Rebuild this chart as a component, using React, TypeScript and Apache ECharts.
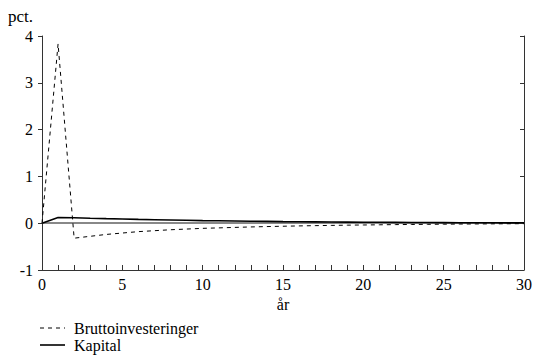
import React, { useEffect, useRef } from "react";
import * as echarts from "echarts";

const years = Array.from({ length: 31 }, (_, i) => i);
const brutto = [0, 3.83, -0.32, -0.28, -0.24, -0.21, -0.18, -0.16, -0.14, -0.125, -0.11, -0.1, -0.09, -0.08, -0.072, -0.065, -0.058, -0.052, -0.047, -0.042, -0.038, -0.034, -0.03, -0.027, -0.024, -0.021, -0.018, -0.016, -0.014, -0.012, -0.01];
const kapital = [0, 0.12, 0.115, 0.105, 0.097, 0.09, 0.082, 0.075, 0.068, 0.062, 0.056, 0.051, 0.046, 0.042, 0.038, 0.034, 0.031, 0.028, 0.025, 0.023, 0.021, 0.019, 0.017, 0.015, 0.014, 0.012, 0.011, 0.01, 0.009, 0.008, 0.007];
const seriesNames = ["Bruttoinvesteringer", "Kapital"];
const yUnit = "pct.";
const xName = "år";

const FONT = "Liberation Serif";

export default function App() {
  const ref = useRef<HTMLDivElement>(null);
  useEffect(() => {
    if (!ref.current) return;
    const chart = echarts.init(ref.current, null, { renderer: "svg" });
    const axisColor = "#333";
    chart.setOption({
      animation: false,
      backgroundColor: "#fff",
      textStyle: { fontFamily: FONT, color: "#000" },
      grid: { left: 42, right: 8, top: 36, bottom: 88 },
      graphic: [
        {
          type: "text",
          left: 8,
          top: 8,
          style: { text: yUnit, fontFamily: FONT, fontSize: 17, fill: "#000" },
        },
        {
          type: "line",
          shape: { x1: 40, y1: 328, x2: 65, y2: 328 },
          style: { stroke: "#000", lineWidth: 1, lineDash: [4, 4] },
        },
        {
          type: "text",
          x: 74,
          y: 328,
          style: { text: seriesNames[0], fontFamily: FONT, fontSize: 16, fill: "#000", verticalAlign: "middle" },
        },
        {
          type: "line",
          shape: { x1: 40, y1: 345, x2: 65, y2: 345 },
          style: { stroke: "#000", lineWidth: 1.6 },
        },
        {
          type: "text",
          x: 74,
          y: 345,
          style: { text: seriesNames[1], fontFamily: FONT, fontSize: 16, fill: "#000", verticalAlign: "middle" },
        },
      ],
      xAxis: {
        type: "value",
        min: 0,
        max: 30,
        interval: 1,
        name: xName,
        nameLocation: "middle",
        nameGap: 23,
        nameTextStyle: { fontFamily: FONT, fontSize: 16, color: "#000" },
        axisLine: { show: true, onZero: false, lineStyle: { color: axisColor, width: 1 } },
        axisTick: { show: true, inside: true, length: 5, lineStyle: { color: axisColor } },
        axisLabel: {
          fontFamily: FONT,
          fontSize: 16,
          color: "#000",
          margin: 6,
          formatter: (v: number) => (v % 5 === 0 ? String(v) : ""),
        },
        splitLine: { show: false },
      },
      yAxis: [
        {
          type: "value",
          min: -1,
          max: 4,
          interval: 1,
          position: "left",
          axisLine: { show: true, lineStyle: { color: axisColor } },
          axisTick: { show: true, inside: false, length: 4, lineStyle: { color: axisColor } },
          axisLabel: { fontFamily: FONT, fontSize: 16, color: "#000", margin: 9 },
          splitLine: { show: false },
        },
        {
          type: "value",
          min: -1,
          max: 4,
          interval: 1,
          position: "right",
          axisLine: { show: true, lineStyle: { color: axisColor } },
          axisTick: { show: true, inside: true, length: 4, lineStyle: { color: axisColor } },
          axisLabel: { show: false },
          splitLine: { show: false },
        },
      ],
      series: [
        {
          name: seriesNames[0],
          type: "line",
          data: years.map((y, i) => [y, brutto[i]]),
          symbol: "none",
          lineStyle: { color: "#000", width: 1, type: [4, 4] },
          itemStyle: { color: "#000" },
          z: 3,
          markLine: {
            silent: true,
            symbol: "none",
            label: { show: false },
            lineStyle: { color: "#888", width: 2, type: "solid" },
            data: [{ yAxis: 0 }],
            z: 1,
          },
        },
        {
          name: seriesNames[1],
          type: "line",
          data: years.map((y, i) => [y, kapital[i]]),
          symbol: "none",
          lineStyle: { color: "#000", width: 1.6, type: "solid" },
          itemStyle: { color: "#000" },
          z: 4,
        },
      ],
    });
    return () => chart.dispose();
  }, []);
  return (
    <div
      ref={ref}
      style={{ position: "fixed", left: 0, top: 0, width: 535, height: 358 }}
    />
  );
}
